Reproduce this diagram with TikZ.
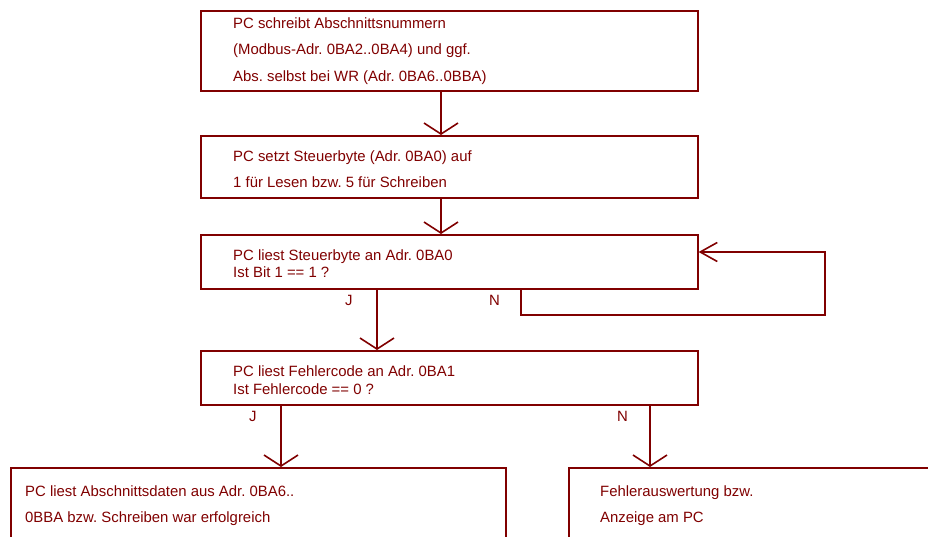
\documentclass[tikz,border=0pt]{standalone}
\usepackage{fontspec}
\setmainfont{Liberation Sans}
\usetikzlibrary{arrows.meta}
\definecolor{dr}{RGB}{128,0,0}
\frenchspacing
\begin{document}
\begin{tikzpicture}[x=1pt,y=-1pt,
  box/.style={draw=dr, line width=1.6pt, rectangle, inner sep=0pt, anchor=north west},
  txt/.style={text=dr, anchor=base west, inner sep=0pt, font=\fontsize{14.9}{17}\selectfont},
  flow/.style={draw=dr, line width=1.6pt, -{Straight Barb[length=11pt,width=34pt]}},
  loopflow/.style={draw=dr, line width=1.6pt, -{Straight Barb[length=17pt,width=19pt]}}]
\useasboundingbox (0,0) rectangle (928,537);
\clip (0,0) rectangle (928,537);
% boxes
\node[box, minimum width=497pt, minimum height=80pt] (b1) at (200,10) {};
\node[box, minimum width=497pt, minimum height=62pt] (b2) at (200,135) {};
\node[box, minimum width=497pt, minimum height=54pt] (b3) at (200,234) {};
\node[box, minimum width=497pt, minimum height=54pt] (b4) at (200,350) {};
\node[box, minimum width=495pt, minimum height=93pt] (b5) at (10,467) {};
\node[box, minimum width=382pt, minimum height=93pt] (b6) at (568,467) {};
% texts
\node[txt] (t11) at (233,28.3) {PC schreibt Abschnittsnummern};
\node[txt] (t12) at (233,55) {(Modbus-Adr. 0BA2..0BA4) und ggf.};
\node[txt] (t13) at (233,81.5) {Abs. selbst bei WR (Adr. 0BA6..0BBA)};
\node[txt] (t21) at (233,161.7) {PC setzt Steuerbyte (Adr. 0BA0) auf};
\node[txt] (t22) at (233,188) {1 für Lesen bzw. 5 für Schreiben};
\node[txt] (t31) at (233,260.7) {PC liest Steuerbyte an Adr. 0BA0};
\node[txt] (t32) at (233,277.7) {Ist Bit 1 == 1 ?};
\node[txt] (t41) at (233,376.5) {PC liest Fehlercode an Adr. 0BA1};
\node[txt] (t42) at (233,394.5) {Ist Fehlercode == 0 ?};
\node[txt] (t51) at (25,496) {PC liest Abschnittsdaten aus Adr. 0BA6..};
\node[txt] (t52) at (25,522) {0BBA bzw. Schreiben war erfolgreich};
\node[txt] (t61) at (600,496) {Fehlerauswertung bzw.};
\node[txt] (t62) at (600,522) {Anzeige am PC};
% branch labels
\node[txt] (j1) at (345,305.7) {J};
\node[txt] (n1) at (489,305.7) {N};
\node[txt] (j2) at (249,421) {J};
\node[txt] (n2) at (617,421) {N};
% connector x positions
\coordinate (c1) at (441,0);
\coordinate (cj1) at (377,0);
\coordinate (cn1) at (521,0);
\coordinate (cj2) at (281,0);
\coordinate (cn2) at (650,0);
\coordinate (lp1) at (825,315);
\coordinate (lp2) at (825,252);
% connectors
\draw[flow] (b1.south -| c1) -- (b2.north -| c1);
\draw[flow] (b2.south -| c1) -- (b3.north -| c1);
\draw[flow] (b3.south -| cj1) -- (b4.north -| cj1);
\draw[loopflow] (b3.south -| cn1) |- (lp1) -- (lp2) -- (b3.east |- lp2);
\draw[flow] (b4.south -| cj2) -- (b5.north -| cj2);
\draw[flow] (b4.south -| cn2) -- (b6.north -| cn2);
\end{tikzpicture}
\end{document}
